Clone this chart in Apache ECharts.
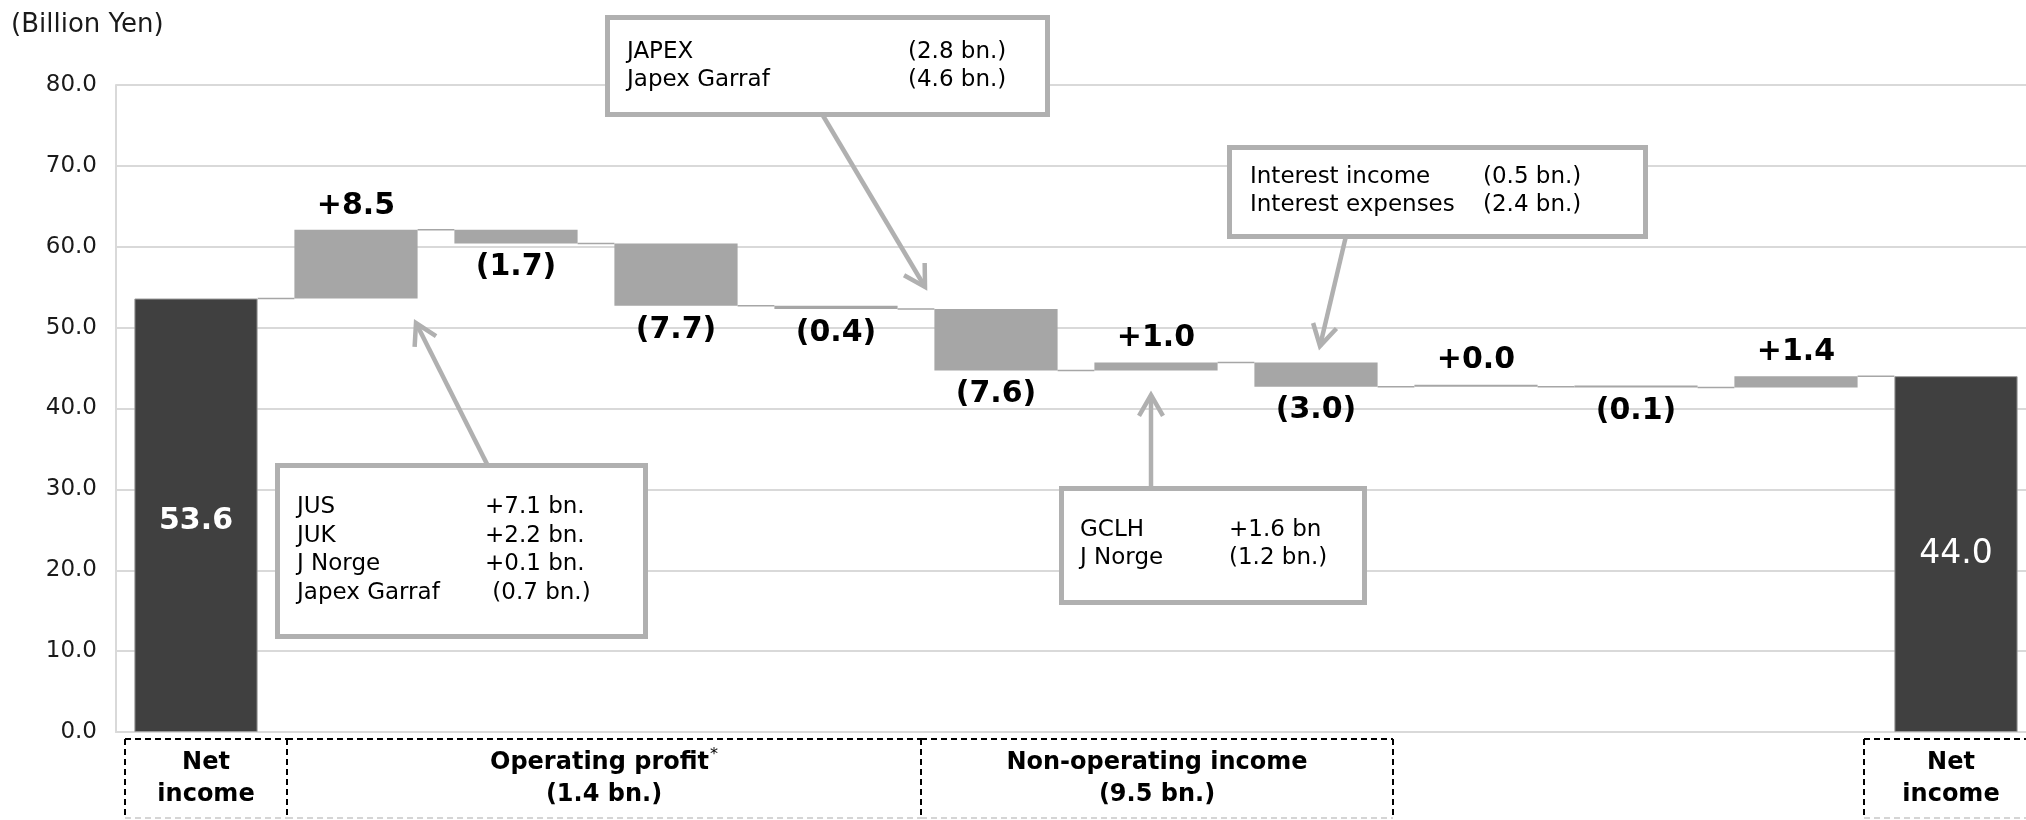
<!DOCTYPE html>
<html>
<head>
<meta charset="utf-8">
<script src="https://cdn.jsdelivr.net/npm/echarts@6/dist/echarts.min.js"></script>
<style>
  html, body { margin: 0; padding: 0; background: #ffffff; }
  #chart { width: 2026px; height: 820px; }
</style>
</head>
<body>
<div id="chart"></div>
<script>
// ---- data ----------------------------------------------------------------
const categories = [
  'Net income (prior)', 'Op. 1', 'Op. 2', 'Op. 3', 'Op. 4',
  'Non-op. 1', 'Non-op. 2', 'Non-op. 3', 'Other 1', 'Other 2', 'Other 3',
  'Net income (current)'
];
const openingTotal = 53.6;
const changes = [8.5, -1.7, -7.7, -0.4, -7.6, 1.0, -3.0, 0.0, -0.1, 1.4];
const closingTotal = 44.0;

const yMin = 0;
const yMax = 80;
const yStep = 10;
const unitText = '(Billion Yen)';

// group captions under the axis: [first category, last category, line 1, line 2]
const groupFirst = [0, 1, 5, 11];
const groupLast = [0, 4, 7, 11];
const groupLine1 = ['Net', 'Operating profit', 'Non-operating income', 'Net'];
const groupLine2 = ['income', '(1.4 bn.)', '(9.5 bn.)', 'income'];
const groupStar = [false, true, false, false];

// call-out notes: left column / right column
const noteJusLeft = ['JUS', 'JUK', 'J Norge', 'Japex Garraf'];
const noteJusRight = ['+7.1 bn.', '+2.2 bn.', '+0.1 bn.', ' (0.7 bn.)'];
const noteJapexLeft = ['JAPEX', 'Japex Garraf'];
const noteJapexRight = ['(2.8 bn.)', '(4.6 bn.)'];
const noteInterestLeft = ['Interest income', 'Interest expenses'];
const noteInterestRight = ['(0.5 bn.)', '(2.4 bn.)'];
const noteGclhLeft = ['GCLH', 'J Norge'];
const noteGclhRight = ['+1.6 bn', '(1.2 bn.)'];

// ---- derived waterfall series ---------------------------------------------
const FONT = 'DejaVu Sans';
const DARK = '#404040';
const GREY = '#a6a6a6';
const NOTE_GREY = '#b0b0b0';
const BAR_RATIO = 0.77;

const round1 = v => Math.round(v * 10) / 10;
const levels = [openingTotal];
changes.forEach(d => levels.push(round1(levels[levels.length - 1] + d)));

const baseData = [0];
const barData = [];
const fmtChange = d => d >= 0 ? '+' + d.toFixed(1) : '(' + Math.abs(d).toFixed(1) + ')';

barData.push({
  value: openingTotal,
  itemStyle: { color: DARK, borderColor: '#9a9a9a', borderWidth: 1 },
  label: { show: true, position: 'inside', color: '#ffffff', fontSize: 30, fontWeight: 'bold',
           offset: [0, 6], formatter: () => openingTotal.toFixed(1) }
});
changes.forEach((d, k) => {
  const before = levels[k];
  const after = levels[k + 1];
  baseData.push(Math.min(before, after));
  barData.push({
    value: Math.abs(d),
    itemStyle: { color: GREY },
    label: { show: true, position: d >= 0 ? 'top' : 'bottom', distance: 9,
             color: '#000000', fontSize: 30, fontWeight: 'bold',
             formatter: () => fmtChange(d) }
  });
});
baseData.push(0);
barData.push({
  value: closingTotal,
  itemStyle: { color: DARK, borderColor: '#9a9a9a', borderWidth: 1 },
  label: { show: true, position: 'inside', color: '#ffffff', fontSize: 33, fontWeight: 'normal',
           formatter: () => closingTotal.toFixed(1) }
});

// connector segments: from the right edge of bar i to the left edge of bar i+1
const connectorData = levels.map((lv, i) => [i, lv]);

const chart = echarts.init(document.getElementById('chart'), null, { renderer: 'canvas' });

chart.setOption({
  animation: false,
  backgroundColor: '#ffffff',
  textStyle: { fontFamily: FONT },
  title: {
    text: unitText, left: 11, top: 12, padding: 0,
    textStyle: { fontFamily: FONT, fontSize: 26, fontWeight: 'normal', color: '#1a1a1a' }
  },
  grid: { left: 116, width: 1920, top: 85, height: 647, containLabel: false,
          outerBoundsMode: 'none' },
  xAxis: {
    type: 'category',
    data: categories,
    axisLine: { show: true, lineStyle: { color: '#d9d9d9', width: 2 } },
    axisTick: { show: false },
    axisLabel: { show: false },
    splitLine: { show: false }
  },
  yAxis: {
    type: 'value',
    min: yMin, max: yMax, interval: yStep,
    axisLine: { show: true, lineStyle: { color: '#d9d9d9', width: 2 } },
    axisTick: { show: false },
    axisLabel: { color: '#1a1a1a', fontSize: 23, margin: 19, fontFamily: FONT,
                 formatter: v => v.toFixed(1) },
    splitLine: { show: true, lineStyle: { color: '#d9d9d9', width: 2 } }
  },
  series: [
    {
      name: 'base', type: 'bar', stack: 'wf', barWidth: (BAR_RATIO * 100) + '%',
      itemStyle: { color: 'transparent' }, emphasis: { disabled: true },
      data: baseData, z: 2
    },
    {
      name: 'value', type: 'bar', stack: 'wf', barWidth: (BAR_RATIO * 100) + '%',
      barMinHeight: 2, emphasis: { disabled: true },
      data: barData, z: 3
    },
    {
      name: 'connector', type: 'custom', z: 1,
      data: connectorData,
      renderItem: (params, api) => {
        const i = api.value(0);
        const y = api.value(1);
        const p0 = api.coord([i, y]);
        const p1 = api.coord([i + 1, y]);
        const half = api.size([1, 0])[0] * BAR_RATIO / 2;
        return {
          type: 'line',
          shape: { x1: p0[0] + half, y1: p0[1], x2: p1[0] - half, y2: p1[1] },
          style: { stroke: GREY, lineWidth: 1.5 }
        };
      }
    }
  ]
});

// ---- annotations ------------------------------------------------------------
const gfx = [];

function arrow(sx, sy, tx, ty) {
  const dx = tx - sx, dy = ty - sy;
  const len = Math.hypot(dx, dy);
  const ux = dx / len, uy = dy / len;
  const L = 24, a = Math.PI / 6;
  const h = s => [tx - L * (ux * Math.cos(s * a) - uy * Math.sin(s * a)),
                  ty - L * (uy * Math.cos(s * a) + ux * Math.sin(s * a))];
  gfx.push({ type: 'line', z: 10, shape: { x1: sx, y1: sy, x2: tx, y2: ty },
             style: { stroke: NOTE_GREY, lineWidth: 4.5 } });
  gfx.push({ type: 'polyline', z: 10, shape: { points: [h(1), [tx, ty], h(-1)] },
             style: { stroke: NOTE_GREY, lineWidth: 4.5, fill: null, lineJoin: 'miter' } });
}

function note(x0, y0, x1, y1, leftX, rightX, firstY, step, lefts, rights) {
  gfx.push({ type: 'rect', z: 11, shape: { x: x0 + 2.5, y: y0 + 2.5, width: x1 - x0 - 5, height: y1 - y0 - 5 },
             style: { fill: '#ffffff', stroke: NOTE_GREY, lineWidth: 5 } });
  lefts.forEach((t, k) => {
    gfx.push({ type: 'text', z: 12, x: leftX, y: firstY + k * step,
               style: { text: t, font: '23px "' + FONT + '"', fill: '#000000',
                        textAlign: 'left', textVerticalAlign: 'middle' } });
    gfx.push({ type: 'text', z: 12, x: rightX, y: firstY + k * step,
               style: { text: rights[k], font: '23px "' + FONT + '"', fill: '#000000',
                        textAlign: 'left', textVerticalAlign: 'middle' } });
  });
}

arrow(489, 468, 416, 323);
note(275, 463, 648, 639, 297, 485, 507, 28.6, noteJusLeft, noteJusRight);

arrow(822, 114, 925, 287);
note(605, 15, 1050, 117, 627, 908, 52, 28.4, noteJapexLeft, noteJapexRight);

arrow(1346, 236, 1320, 346);
note(1227, 145, 1648, 239, 1250, 1483, 177, 28.4, noteInterestLeft, noteInterestRight);

arrow(1151, 488, 1151, 395);
note(1059, 486, 1367, 605, 1080, 1229, 530, 28.4, noteGclhLeft, noteGclhRight);

// ---- group captions under the axis -----------------------------------------
const c0 = chart.convertToPixel({ xAxisIndex: 0 }, 0);
const c1 = chart.convertToPixel({ xAxisIndex: 0 }, 1);
const band = c1 - c0;
const edgeAdjust = [[9, 11], [11, 5], [5, -3], [-12, 0]];
const boxTop = 739, boxBottom = 818;
const dashStyle = { stroke: '#000000', lineWidth: 2, lineDash: [6, 4] };

groupFirst.forEach((f, g) => {
  const left = c0 + (f - 0.5) * band + edgeAdjust[g][0];
  const right = c0 + (groupLast[g] + 0.5) * band + edgeAdjust[g][1];
  gfx.push({ type: 'line', z: 5, shape: { x1: left, y1: boxTop, x2: right, y2: boxTop }, style: dashStyle });
  gfx.push({ type: 'line', z: 5, shape: { x1: left, y1: boxTop, x2: left, y2: boxBottom }, style: dashStyle });
  gfx.push({ type: 'line', z: 5, shape: { x1: right, y1: boxTop, x2: right, y2: boxBottom }, style: dashStyle });
  gfx.push({ type: 'line', z: 5, shape: { x1: left, y1: boxBottom, x2: right, y2: boxBottom },
             style: { stroke: '#c8c8c8', lineWidth: 1.5, lineDash: [6, 4] } });
  const cx = g === 3 ? c0 + f * band - 5 : (left + right) / 2;
  const line1 = groupStar[g] ? '{b|' + groupLine1[g] + '}{s|*}' : '{b|' + groupLine1[g] + '}';
  gfx.push({
    type: 'text', z: 6, x: cx, y: 779,
    style: {
      text: line1 + '\n{b|' + groupLine2[g] + '}',
      textAlign: 'center', textVerticalAlign: 'middle',
      rich: {
        b: { fontFamily: FONT, fontSize: 24, fontWeight: 'bold', fill: '#000000', lineHeight: 32 },
        s: { fontFamily: FONT, fontSize: 16, fontWeight: 'normal', fill: '#000000', lineHeight: 32,
             verticalAlign: 'top', padding: [0, 0, 12, 1] }
      }
    }
  });
});

chart.setOption({ graphic: { elements: gfx } });
</script>
</body>
</html>
